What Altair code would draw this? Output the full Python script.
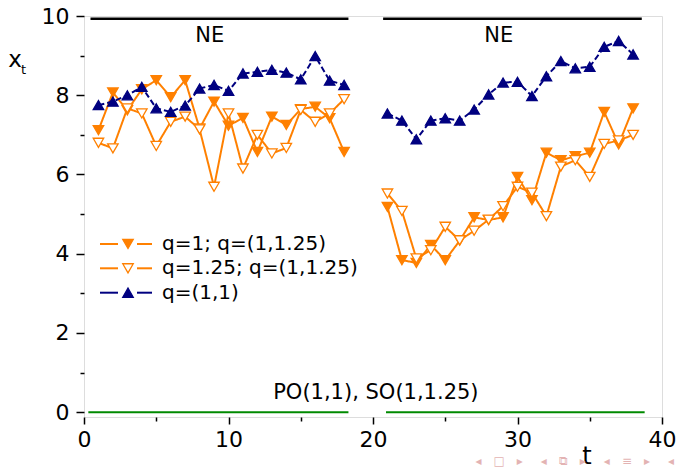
import altair as alt
import pandas as pd

# Time steps of the two simulation runs
t_run1 = list(range(1, 19))
t_run2 = list(range(21, 39))

# q=1; q=(1,1.25)  -> filled down-triangles
q1_run1 = [7.12, 8.07, 7.62, 8.15, 8.38, 7.95, 8.38, 7.16, 7.84, 7.23, 7.43, 6.57, 7.46, 7.25, 7.65, 7.71, 7.42, 6.57]
q1_run2 = [5.18, 3.84, 3.77, 4.22, 3.84, 4.33, 4.92, 4.85, 4.92, 5.94, 5.35, 6.55, 6.36, 6.46, 6.55, 7.58, 6.76, 7.67]
# q=1.25; q=(1,1.25) -> open down-triangles
q125_run1 = [6.80, 6.66, 7.67, 7.54, 6.72, 7.33, 7.46, 7.14, 5.69, 7.54, 6.15, 7.00, 6.53, 6.67, 7.63, 7.33, 7.54, 7.90]
q125_run2 = [5.52, 5.08, 3.88, 4.09, 4.68, 4.34, 4.58, 4.86, 5.20, 5.69, 5.54, 4.95, 6.20, 6.36, 5.94, 6.77, 6.86, 7.00]
# q=(1,1) -> filled up-triangles
q11_run1 = [7.75, 7.84, 8.00, 8.21, 7.67, 7.58, 7.74, 8.17, 8.26, 8.11, 8.55, 8.59, 8.64, 8.57, 8.40, 8.99, 8.37, 8.26]
q11_run2 = [7.54, 7.36, 6.89, 7.36, 7.42, 7.36, 7.64, 8.02, 8.32, 8.34, 7.98, 8.48, 8.86, 8.68, 8.72, 9.22, 9.37, 9.03]

series_labels = ["q=1; q=(1,1.25)", "q=1.25; q=(1,1.25)", "q=(1,1)"]
series_runs = [(q1_run1, q1_run2), (q125_run1, q125_run2), (q11_run1, q11_run2)]
series_color = ["#ff8000", "#ff8000", "#000080"]
series_fill = ["#ff8000", "white", "#000080"]
series_shape = ["triangle-down", "triangle-down", "triangle-up"]
series_dash = [[1, 0], [1, 0], [6, 3]]

# Equilibrium regimes
ne_start = [0.45, 20.7]
ne_end = [18.3, 38.6]
ne_level = 9.93
ne_label_t = [8.7, 28.7]
ne_label_y = 9.5
po_start = [0.3, 20.9]
po_end = [18.3, 38.8]
po_level = 0.0
po_label = "PO(1,1), SO(1,1.25)"
po_label_t = 20.2
po_label_y = 0.49

FONT = "DejaVu Sans"
W, H = 578, 401

xs = alt.Scale(domain=[0, 40], nice=False)
ys = alt.Scale(domain=[-0.12, 10], nice=False)

x_axis = alt.Axis(
    values=list(range(0, 41, 5)),
    labelExpr="datum.value % 10 === 0 ? datum.label : ''",
    tickSize={"condition": {"test": "datum.value % 10 === 0", "value": 7}, "value": 4},
    labelFont=FONT, labelFontSize=22, labelColor="black",
    tickColor="black", tickWidth=1.5,
    labelFlush=False, labelOverlap=False, grid=False, domain=False,
    labelPadding=5, title=None,
)
y_axis = alt.Axis(
    values=list(range(0, 11)),
    labelExpr="datum.value % 2 === 0 ? datum.label : ''",
    tickSize={"condition": {"test": "datum.value % 2 === 0", "value": 8}, "value": 4},
    labelFont=FONT, labelFontSize=22, labelColor="black",
    tickColor="black", tickWidth=1.5,
    labelOverlap=False, grid=False, domain=False,
    labelPadding=7, title=None,
)


def X(field):
    return alt.X(f"{field}:Q", scale=xs, axis=x_axis)


def X2(field):
    return alt.X2(f"{field}:Q")


def Y(field):
    return alt.Y(f"{field}:Q", scale=ys, axis=y_axis)


layers = []

# Regime bars
po_df = pd.DataFrame({"start": po_start, "end": po_end, "level": [po_level] * len(po_start)})
layers.append(alt.Chart(po_df).mark_rule(color="#008a00", strokeWidth=2.2).encode(
    x=X("start"), x2=X2("end"), y=Y("level")))
ne_df = pd.DataFrame({"start": ne_start, "end": ne_end, "level": [ne_level] * len(ne_start)})
layers.append(alt.Chart(ne_df).mark_rule(color="black", strokeWidth=2.5).encode(
    x=X("start"), x2=X2("end"), y=Y("level")))

ne_txt = pd.DataFrame({"t": ne_label_t, "y": [ne_label_y] * len(ne_label_t), "label": ["NE"] * len(ne_label_t)})
layers.append(alt.Chart(ne_txt).mark_text(font=FONT, fontSize=21, color="black", baseline="middle").encode(
    x=X("t"), y=Y("y"), text="label:N"))
po_txt = pd.DataFrame({"t": [po_label_t], "y": [po_label_y], "label": [po_label]})
layers.append(alt.Chart(po_txt).mark_text(font=FONT, fontSize=21, color="black", baseline="middle").encode(
    x=X("t"), y=Y("y"), text="label:N"))

# Data series: line then markers, one run per segment
for label, (r1, r2), col, fil, shp, dash in zip(series_labels, series_runs, series_color,
                                                series_fill, series_shape, series_dash):
    df = pd.DataFrame({
        "t": t_run1 + t_run2,
        "x": r1 + r2,
        "run": [1] * len(t_run1) + [2] * len(t_run2),
    })
    base = alt.Chart(df)
    layers.append(base.mark_line(color=col, strokeWidth=2, strokeDash=dash).encode(
        x=X("t"), y=Y("x"), detail="run:N"))
    layers.append(base.mark_point(shape=shp, size=110, filled=True, fill=fil, stroke=col,
                                  strokeWidth=1.3, opacity=1).encode(x=X("t"), y=Y("x")))

# Legend
leg_rows = [228, 252.3, 276.7]
one = pd.DataFrame({"k": [0]})
for label, col, fil, shp, dash, yy in zip(series_labels, series_color, series_fill,
                                          series_shape, series_dash, leg_rows):
    layers.append(alt.Chart(one).mark_rule(color=col, strokeWidth=2).encode(
        x=alt.value(16), x2=alt.value(34), y=alt.value(yy)))
    layers.append(alt.Chart(one).mark_rule(color=col, strokeWidth=2).encode(
        x=alt.value(53), x2=alt.value(68), y=alt.value(yy)))
    layers.append(alt.Chart(one).mark_point(shape=shp, size=110, filled=True, fill=fil, stroke=col,
                                            strokeWidth=1.3, opacity=1).encode(
        x=alt.value(44), y=alt.value(yy)))
    layers.append(alt.Chart(one).mark_text(font=FONT, fontSize=20, color="black", align="left",
                                           baseline="middle", text=label).encode(
        x=alt.value(78), y=alt.value(yy)))

# Axis titles: x_t on the left, t at the bottom
layers.append(alt.Chart(one).mark_text(font=FONT, fontSize=23, color="black", align="center",
                                       baseline="middle", text="x").encode(
    x=alt.value(-69), y=alt.value(44)))
layers.append(alt.Chart(one).mark_text(font=FONT, fontSize=13, color="black", align="center",
                                       baseline="middle", text="t").encode(
    x=alt.value(-60.5), y=alt.value(54)))
layers.append(alt.Chart(one).mark_text(font=FONT, fontSize=24, color="black", align="center",
                                       baseline="alphabetic", text="t").encode(
    x=alt.value(503), y=alt.value(448)))

# Slide navigation symbols
nav = "\u25c2\u2003\u25a1\u2003\u25b8\u2003\u2002\u25c2\u2003\u29c9\u2003\u25b8\u2003\u2002\u25c2\u2003\u2261\u2003\u25b8\u2003\u2002\u25c2"
layers.append(alt.Chart(one).mark_text(font=FONT, fontSize=12, color="#e3b3b3", align="right",
                                       baseline="middle", text=nav).encode(
    x=alt.value(590), y=alt.value(445)))

chart = alt.layer(*layers).properties(
    width=W, height=H,
    autosize=alt.AutoSizeParams(type="none"),
    padding={"left": 84, "top": 16, "right": 15, "bottom": 51},
).configure_view(
    stroke="black", strokeWidth=1.5,
).configure(background="white")

chart.save("out.html", embed_options={"renderer": "svg", "actions": False})
